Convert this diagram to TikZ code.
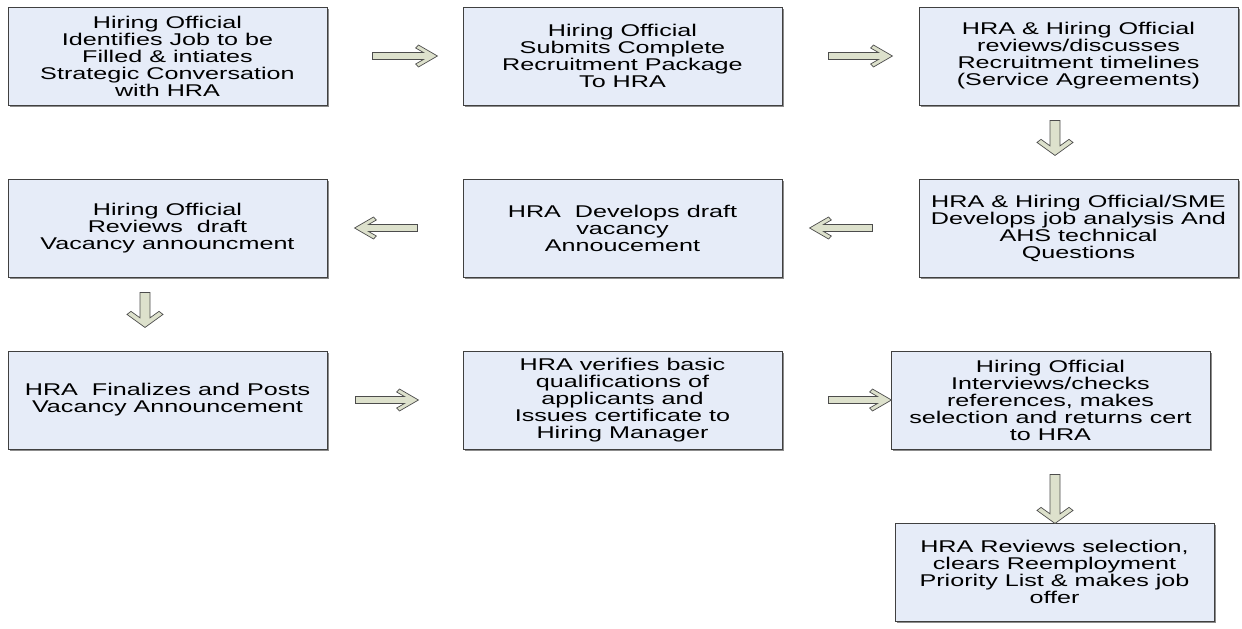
\documentclass[tikz,border=0pt]{standalone}
\usepackage{fontspec}
\newfontfamily\boxfont[FakeStretch=1.48]{Liberation Sans}
\usetikzlibrary{calc,shadows}
\definecolor{boxblue}{RGB}{230,236,248}
\definecolor{arrowfill}{RGB}{221,225,204}
\tikzset{
  stepbox/.style={draw=black!75, fill=boxblue, line width=0.9pt, minimum width=319pt, minimum height=98pt,
    align=center, inner sep=2pt, font=\boxfont\fontsize{17}{17}\selectfont,
    drop shadow={shadow xshift=1.6pt, shadow yshift=-1.6pt, opacity=1, fill=black!45}},
  arrowline/.style={draw=black!70, fill=arrowfill, line width=0.7pt, line join=miter},
  pics/harrow/.style={code={
    \draw[arrowline] (0,3.5) -- (#1-14,3.5) -- (#1-21.8,8) -- (#1-19,11) -- (#1,0)
      -- (#1-19,-11) -- (#1-21.8,-8) -- (#1-14,-3.5) -- (0,-3.5) -- cycle;}},
  pics/varrow/.style={code={
    \draw[arrowline] (5,0) -- (5,#1-9.6) -- (14,#1-16.1) -- (18,#1-13) -- (0,#1)
      -- (-18,#1-13) -- (-14,#1-16.1) -- (-5,#1-9.6) -- (-5,0) -- cycle;}}
}
\begin{document}
\begin{tikzpicture}[x=1pt,y=-1pt]
	\useasboundingbox (0,0) rectangle (1242,629);
	\node[stepbox] (identify) at (167.5,56) {Hiring Official\\Identifies Job to be\\Filled \& intiates\\Strategic Conversation\\with HRA};
	\node[stepbox] (submit) at (622.5,56) {Hiring Official\\Submits Complete\\Recruitment Package\\To HRA};
	\node[stepbox] (timeline) at (1078.5,56) {HRA \& Hiring Official\\reviews/discusses\\Recruitment timelines\\(Service Agreements)};
	\node[stepbox] (review) at (167.5,228) {Hiring Official\\Reviews\ \ draft\\Vacancy announcment};
	\node[stepbox] (draft) at (622.5,228) {HRA\ \ Develops draft\\vacancy\\Annoucement};
	\node[stepbox] (analysis) at (1078.5,228) {HRA \& Hiring Official/SME\\Develops job analysis And\\AHS technical\\Questions};
	\node[stepbox] (post) at (167.5,400) {HRA\ \ Finalizes and Posts\\Vacancy Announcement};
	\node[stepbox] (verify) at (622.5,400) {HRA verifies basic\\qualifications of\\applicants and\\Issues certificate to\\Hiring Manager};
	\node[stepbox] (interview) at (1050.5,400) {Hiring Official\\Interviews/checks\\references, makes\\selection and returns cert\\to HRA};
	\node[stepbox] (offer) at (1054.5,572) {HRA Reviews selection,\\clears Reemployment\\Priority List \& makes job\\offer};
	\pic at ($(identify.east)+(45,0)$) {harrow=65};
	\pic at ($(submit.east)+(46,0)$) {harrow=64};
	\pic at ($(timeline.south)+(-23.5,15)$) {varrow=35};
	\pic[xscale=-1] at ($(analysis.west)+(-46,0)$) {harrow=63};
	\pic[xscale=-1] at ($(draft.west)+(-45,0)$) {harrow=63};
	\pic at ($(review.south)+(-22.5,15)$) {varrow=35};
	\pic at ($(post.east)+(28,0)$) {harrow=63};
	\pic at ($(verify.east)+(46,0)$) {harrow=63};
	\pic at ($(interview.south)+(4.5,25)$) {varrow=49};
\end{tikzpicture}
\end{document}
